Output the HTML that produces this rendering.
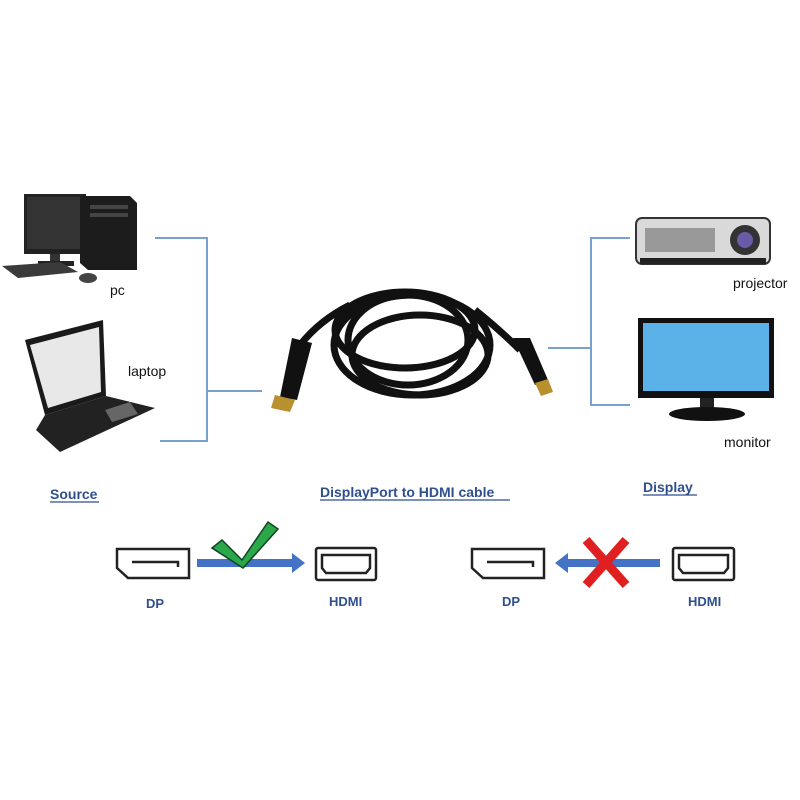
<!DOCTYPE html>
<html><head><style>
body{margin:0;background:#fff;}
svg{display:block;}
text{font-family:"Liberation Sans",sans-serif;}
</style></head><body>
<svg width="800" height="800" viewBox="0 0 800 800" xmlns="http://www.w3.org/2000/svg">
<rect width="800" height="800" fill="#fff"/>
<g stroke="#7aa0d0" stroke-width="2" fill="none">
<path d="M155 238 H207 V441 H160 M207 391 H262"/>
<path d="M630 238 H591 V405 H630 M548 348 H591"/>
</g>
<!-- PC -->
<rect x="24" y="194" width="62" height="60" fill="#222"/>
<rect x="27" y="197" width="56" height="52" fill="#333"/>
<rect x="50" y="254" width="10" height="8" fill="#333"/>
<rect x="38" y="261" width="36" height="5" fill="#222"/>
<polygon points="80,196 130,196 137,203 137,270 88,270 80,263" fill="#1c1c1c"/>
<rect x="90" y="205" width="38" height="4" fill="#444"/>
<rect x="90" y="213" width="38" height="4" fill="#444"/>
<polygon points="2,266 60,262 78,272 18,278" fill="#3a3a3a"/>
<ellipse cx="88" cy="278" rx="9" ry="5" fill="#444"/>
<text x="110" y="295" font-size="14" fill="#111">pc</text>
<!-- laptop -->
<polygon points="25,340 103,320 106,396 45,415" fill="#1a1a1a"/>
<polygon points="30,345 99,327 101,392 48,408" fill="#e8e8e8"/>
<polygon points="45,415 106,396 155,408 60,452 36,430" fill="#222"/>
<polygon points="105,410 130,402 138,414 112,422" fill="#666"/>
<text x="128" y="376" font-size="14" fill="#111">laptop</text>
<!-- cable -->
<g fill="none" stroke="#111" stroke-width="7">
<ellipse cx="405" cy="330" rx="70" ry="38"/>
<ellipse cx="412" cy="345" rx="78" ry="50"/>
<ellipse cx="420" cy="355" rx="68" ry="40"/>
<ellipse cx="408" cy="340" rx="60" ry="45"/>
<path d="M350 305 Q320 320 300 345"/>
<path d="M475 310 Q500 330 520 350"/>
</g>
<polygon points="292,338 312,343 297,400 280,397" fill="#111"/>
<polygon points="275,395 295,400 290,412 271,408" fill="#b8902e"/>
<polygon points="513,338 530,338 548,380 535,385" fill="#111"/>
<polygon points="535,383 548,379 553,392 541,396" fill="#b8902e"/>
<!-- projector -->
<rect x="636" y="218" width="134" height="46" rx="6" fill="#d9d9d9" stroke="#333" stroke-width="2"/>
<rect x="640" y="258" width="126" height="6" fill="#222"/>
<rect x="645" y="228" width="70" height="24" fill="#999"/>
<circle cx="745" cy="240" r="15" fill="#333"/>
<circle cx="745" cy="240" r="8" fill="#6a5aa8"/>
<text x="733" y="288" font-size="14" fill="#111">projector</text>
<!-- monitor -->
<rect x="638" y="318" width="136" height="80" fill="#111"/>
<rect x="643" y="323" width="126" height="68" fill="#5ab2e8"/>
<rect x="700" y="398" width="14" height="14" fill="#222"/>
<ellipse cx="707" cy="414" rx="38" ry="7" fill="#111"/>
<text x="724" y="447" font-size="14" fill="#111">monitor</text>
<g font-weight="bold" font-size="14" fill="#2f4f8f">
<text x="50" y="499">Source</text>
<text x="320" y="497">DisplayPort to HDMI cable</text>
<text x="643" y="492">Display</text>
</g>
<g stroke="#2f4f8f" stroke-width="1.2">
<line x1="50" y1="502" x2="99" y2="502"/>
<line x1="320" y1="500" x2="510" y2="500"/>
<line x1="643" y1="495" x2="697" y2="495"/>
</g>
<g fill="none" stroke="#222" stroke-width="2.5">
<path d="M117 549 H189 V578 H128 L117 568 Z"/>
<path d="M132 562 H178 V567"/>
<rect x="316" y="548" width="60" height="32" rx="2"/>
<path d="M322 555 H370 V568 L366 573 H326 L322 568 Z"/>
<path d="M472 549 H544 V578 H483 L472 568 Z"/>
<path d="M487 562 H533 V567"/>
<rect x="673" y="548" width="61" height="32" rx="2"/>
<path d="M679 555 H728 V568 L724 573 H683 L679 568 Z"/>
</g>
<rect x="197" y="559" width="96" height="8" fill="#4472c4"/>
<polygon points="292,553 305,563 292,573" fill="#4472c4"/>
<polygon points="212,548 222,540 242,560 268,522 278,529 243,568" fill="#2aa84a" stroke="#114422" stroke-width="1.5"/>
<rect x="568" y="559" width="92" height="8" fill="#4472c4"/>
<polygon points="568,553 555,563 568,573" fill="#4472c4"/>
<g stroke="#e02020" stroke-width="9">
<line x1="586" y1="540" x2="626" y2="585"/>
<line x1="626" y1="540" x2="586" y2="585"/>
</g>
<g font-weight="bold" font-size="13" fill="#2f4f8f">
<text x="146" y="608">DP</text>
<text x="329" y="606">HDMI</text>
<text x="502" y="606">DP</text>
<text x="688" y="606">HDMI</text>
</g>
</svg>
</body></html>
